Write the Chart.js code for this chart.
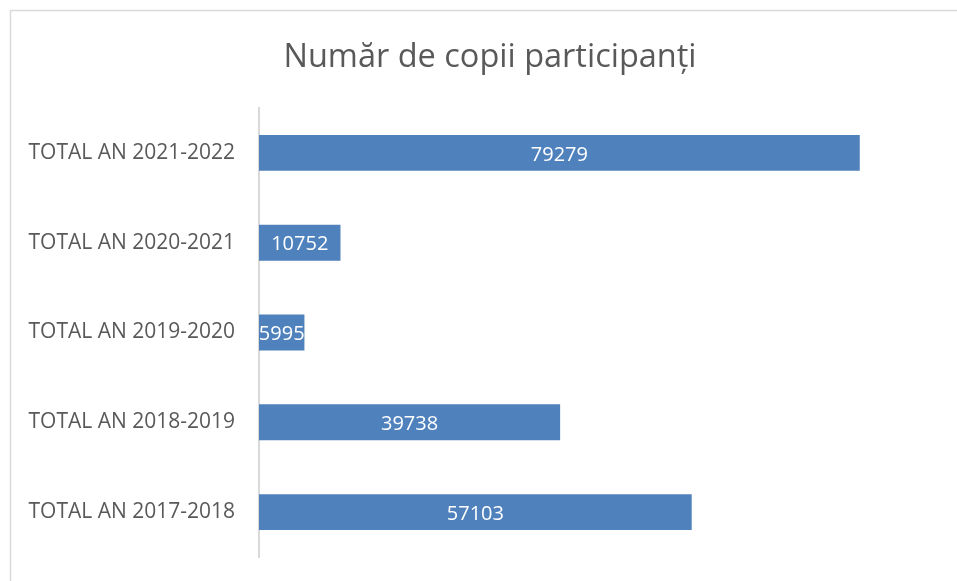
<!DOCTYPE html>
<html>
<head>
<meta charset="utf-8">
<script src="https://cdn.jsdelivr.net/npm/chart.js@4/dist/chart.umd.min.js"></script>
<style>
html,body{margin:0;padding:0;background:#fff;}
#wrap{width:957px;height:581px;position:relative;}
</style>
</head>
<body>
<div id="wrap"><canvas id="c" width="957" height="581"></canvas></div>
<script>
const chartTitle = 'Număr de copii participanți';
const categories = ['TOTAL AN 2021-2022','TOTAL AN 2020-2021','TOTAL AN 2019-2020','TOTAL AN 2018-2019','TOTAL AN 2017-2018'];
const values = [79279, 10752, 5995, 39738, 57103];
const axisMax = 90000;

const FONT = "'Open Sans', sans-serif";
const TEXT = '#595959';
const BAR = '#4f81bd';

const frame = {
  id: 'frame',
  beforeDraw(chart) {
    const ctx = chart.ctx;
    ctx.save();
    ctx.fillStyle = '#fff';
    ctx.fillRect(0, 0, chart.width, chart.height);
    ctx.strokeStyle = '#d9d9d9';
    ctx.lineWidth = 1.5;
    ctx.strokeRect(10.5, 10.5, chart.width + 20, chart.height + 20);
    ctx.restore();
  },
  afterLayout(chart) {
    // the original frame extends past the right edge, so the title centre sits right of the canvas centre
    if (chart.titleBlock) { chart.titleBlock.left = 39; }
  }
};

const barLabels = {
  id: 'barLabels',
  afterDatasetsDraw(chart) {
    const ctx = chart.ctx;
    const meta = chart.getDatasetMeta(0);
    ctx.save();
    ctx.fillStyle = '#ffffff';
    ctx.font = '20px ' + FONT;
    ctx.textAlign = 'center';
    ctx.textBaseline = 'middle';
    meta.data.forEach((bar, i) => {
      const x = (bar.x + bar.base) / 2;
      ctx.fillText(String(chart.data.datasets[0].data[i]), x, bar.y + 2);
    });
    ctx.restore();
  }
};

new Chart(document.getElementById('c'), {
  type: 'bar',
  data: {
    labels: categories,
    datasets: [{
      data: values,
      backgroundColor: BAR,
      borderWidth: 0,
      categoryPercentage: 1.0,
      barPercentage: 0.4
    }]
  },
  options: {
    indexAxis: 'y',
    responsive: false,
    animation: false,
    layout: { padding: { left: 0, right: 16, top: 0, bottom: 24 } },
    plugins: {
      legend: { display: false },
      tooltip: { enabled: false },
      title: {
        display: true,
        text: chartTitle,
        color: TEXT,
        font: { family: FONT, size: 32.5, weight: 'normal' },
        padding: { top: 38, bottom: 31 }
      }
    },
    scales: {
      x: {
        display: false,
        min: 0,
        max: axisMax
      },
      y: {
        afterFit(scale) {
          scale.width = 259;
          scale.paddingTop = 0;
          scale.paddingBottom = 0;
        },
        grid: { display: true, color: 'rgba(0,0,0,0)', drawTicks: false },
        border: { display: true, color: '#d9d9d9', width: 2 },
        ticks: {
          color: TEXT,
          padding: 24,
          font: { family: FONT, size: 21 }
        }
      }
    }
  },
  plugins: [frame, barLabels]
});
</script>
</body>
</html>
